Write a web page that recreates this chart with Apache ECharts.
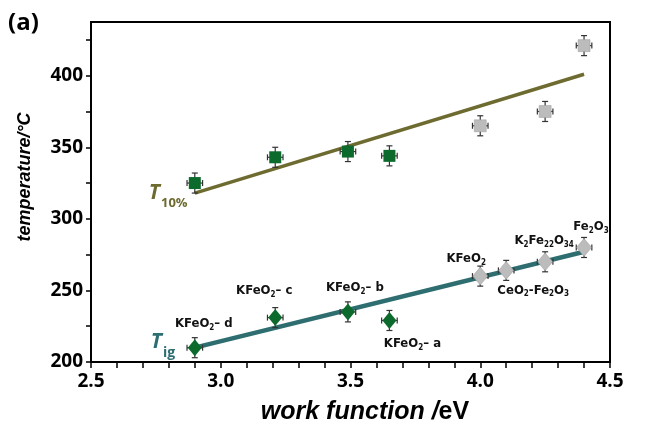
<!DOCTYPE html>
<html>
<head>
<meta charset="utf-8">
<script src="https://cdn.jsdelivr.net/npm/echarts@6/dist/echarts.min.js"></script>
<style>
  html, body { margin: 0; padding: 0; background: #fff; }
  #main { width: 652px; height: 434px; }
</style>
</head>
<body>
<div id="main"></div>
<script>
/* 数据 */
var t10X = [2.9, 3.21, 3.49, 3.65, 4.0, 4.25, 4.4];
var t10Y = [325, 343, 347, 344, 365, 375, 421];
var tigX = [2.9, 3.21, 3.49, 3.65, 4.0, 4.1, 4.25, 4.4];
var tigY = [210, 231, 235, 229, 260, 264, 270, 280];
var tigNames = ['KFeO{s|2}– d', 'KFeO{s|2}– c', 'KFeO{s|2}– b', 'KFeO{s|2}– a',
                'KFeO{s|2}', 'CeO{s|2}-Fe{s|2}O{s|3}', 'K{s|2}Fe{s|22}O{s|34}', 'Fe{s|2}O{s|3}'];
var t10Fit = [[2.9, 318], [4.4, 401]];
var tigFit = [[2.9, 210], [4.4, 277]];
var yErr = 7;      // 误差 °C
var xErr = 0.03;   // 误差 eV
var greenCount = 4; // 前4个为绿色, 其余灰色

// 标签偏移 (px)
var labelOffsets = [[9, -24], [-11, -27], [7, -24], [23, 23], [-14, -17], [27, 20], [-1, -21], [7, -21]];

var myChart = echarts.init(document.getElementById('main'));

var green = '#0c6a2c';
var gray = '#bcbcbc';
var olive = '#6d6b2f';
var teal = '#2e6e70';
var font = 'Open Sans';
var labelFont = '"DejaVu Sans Condensed", "Liberation Sans Narrow", Roboto';

function pts (xs, ys, from, to) {
	var out = [];
	for (var i = from; i < to; i++) out.push([xs[i], ys[i]]);
	return out;
}

/*误差棒*/
function errItem (params, api) {
	var x = api.value(0), y = api.value(1);
	var c = api.coord([x, y]);
	var top = api.coord([x, y + yErr]);
	var bot = api.coord([x, y - yErr]);
	var lft = api.coord([x - xErr, y]);
	var rgt = api.coord([x + xErr, y]);
	var cap = 3;
	var st = { stroke: '#333', lineWidth: 1.2 };
	return {
		type: 'group',
		children: [
			{ type: 'line', shape: { x1: c[0], y1: top[1], x2: c[0], y2: bot[1] }, style: st },
			{ type: 'line', shape: { x1: c[0] - cap, y1: top[1], x2: c[0] + cap, y2: top[1] }, style: st },
			{ type: 'line', shape: { x1: c[0] - cap, y1: bot[1], x2: c[0] + cap, y2: bot[1] }, style: st },
			{ type: 'line', shape: { x1: lft[0], y1: c[1], x2: rgt[0], y2: c[1] }, style: st },
			{ type: 'line', shape: { x1: lft[0], y1: c[1] - cap, x2: lft[0], y2: c[1] + cap }, style: st },
			{ type: 'line', shape: { x1: rgt[0], y1: c[1] - cap, x2: rgt[0], y2: c[1] + cap }, style: st }
		]
	};
}

var labelRich = {
	s: { fontSize: 8, fontWeight: 'bold', fontFamily: labelFont, color: '#111', verticalAlign: 'bottom', lineHeight: 16 }
};

function tigData (from, to) {
	var out = [];
	for (var i = from; i < to; i++) {
		out.push({
			value: [tigX[i], tigY[i]],
			label: {
				show: true,
				position: 'inside',
				offset: labelOffsets[i],
				formatter: tigNames[i],
				fontSize: 13,
				fontWeight: 'bold',
				fontFamily: labelFont,
				color: '#111',
				lineHeight: 16,
				rich: labelRich
			}
		});
	}
	return out;
}

var option = {
	animation: false,
	grid: {
		left: 91,
		right: 42,
		top: 22,
		bottom: 72,
		show: true,
		borderColor: '#000',
		borderWidth: 2
	},
	xAxis: {
		type: 'value',
		min: 2.5,
		max: 4.5,
		interval: 0.5,
		splitLine: { show: false },
		axisLine: { lineStyle: { color: '#000', width: 2 } },
		axisTick: { show: true, inside: false, length: 6, lineStyle: { color: '#000', width: 1.5 } },
		minorTick: { show: true, splitNumber: 5, length: 6, lineStyle: { color: '#000', width: 1.5 } },
		axisLabel: {
			color: '#000', fontSize: 19, fontWeight: 'bold', fontFamily: font, margin: 10,
			formatter: function (v) { return v.toFixed(1); }
		}
	},
	yAxis: {
		type: 'value',
		min: 200,
		max: 437.5,
		interval: 25,
		splitLine: { show: false },
		axisLine: { lineStyle: { color: '#000', width: 2 } },
		axisTick: { show: true, inside: false, length: 5, lineStyle: { color: '#000', width: 1.5 } },
		axisLabel: {
			color: '#000', fontSize: 19, fontWeight: 'bold', fontFamily: font, margin: 8,
			showMaxLabel: false,
			formatter: function (v) { return v % 50 === 0 ? String(v) : ''; }
		}
	},
	graphic: [
		{ type: 'text', left: 8, top: 11, style: { text: '(a)', font: 'bold 24px "Open Sans"', fill: '#000' } },
		{ type: 'text', x: 25, y: 177, rotation: Math.PI / 2,
		  style: { text: 'temperature/°C', font: 'italic bold 18px "Liberation Sans"', fill: '#000', align: 'center', verticalAlign: 'middle' } },
		{ type: 'text', x: 365, y: 412,
		  style: {
			text: '{i|work function /}{r|eV}', align: 'center', verticalAlign: 'middle',
			rich: {
				i: { font: 'italic bold 25px "Liberation Sans"', fill: '#000' },
				r: { font: 'bold 25px "Liberation Sans"', fill: '#000' }
			}
		  } },
		{ type: 'text', x: 160, y: 193, style: { text: 'T', font: 'italic bold 21px "Open Sans"', fill: olive, align: 'right', verticalAlign: 'middle' } },
		{ type: 'text', x: 161, y: 203, style: { text: '10%', font: 'bold 13px "Open Sans"', fill: olive, verticalAlign: 'middle' } },
		{ type: 'text', x: 162, y: 342, style: { text: 'T', font: 'italic bold 21px "Open Sans"', fill: teal, align: 'right', verticalAlign: 'middle' } },
		{ type: 'text', x: 163, y: 353, style: { text: 'ig', font: 'bold 14px "Open Sans"', fill: teal, verticalAlign: 'middle' } }
	],
	series: [
		{
			type: 'line', data: t10Fit, showSymbol: false, z: 2,
			lineStyle: { color: olive, width: 3.5 }
		},
		{
			type: 'line', data: tigFit, showSymbol: false, z: 2,
			lineStyle: { color: teal, width: 4.5 }
		},
		{
			type: 'custom', renderItem: errItem, z: 3,
			data: pts(t10X, t10Y, 0, t10X.length)
		},
		{
			type: 'custom', renderItem: errItem, z: 3,
			data: pts(tigX, tigY, 0, tigX.length)
		},
		{
			type: 'scatter', symbol: 'rect', symbolSize: 12, z: 4,
			itemStyle: { color: green, opacity: 1 },
			data: pts(t10X, t10Y, 0, greenCount)
		},
		{
			type: 'scatter', symbol: 'rect', symbolSize: 12, z: 4,
			itemStyle: { color: gray, borderColor: '#9a9a9a', borderWidth: 0.5, opacity: 1 },
			data: pts(t10X, t10Y, greenCount, t10X.length)
		},
		{
			type: 'scatter', symbol: 'diamond', symbolSize: [14, 17], z: 4,
			itemStyle: { color: green, opacity: 1 },
			data: tigData(0, greenCount)
		},
		{
			type: 'scatter', symbol: 'diamond', symbolSize: [15, 18], z: 4,
			itemStyle: { color: gray, borderColor: '#9a9a9a', borderWidth: 0.5, opacity: 1 },
			data: tigData(greenCount, tigX.length)
		}
	]
};

myChart.setOption(option);
</script>
</body>
</html>
